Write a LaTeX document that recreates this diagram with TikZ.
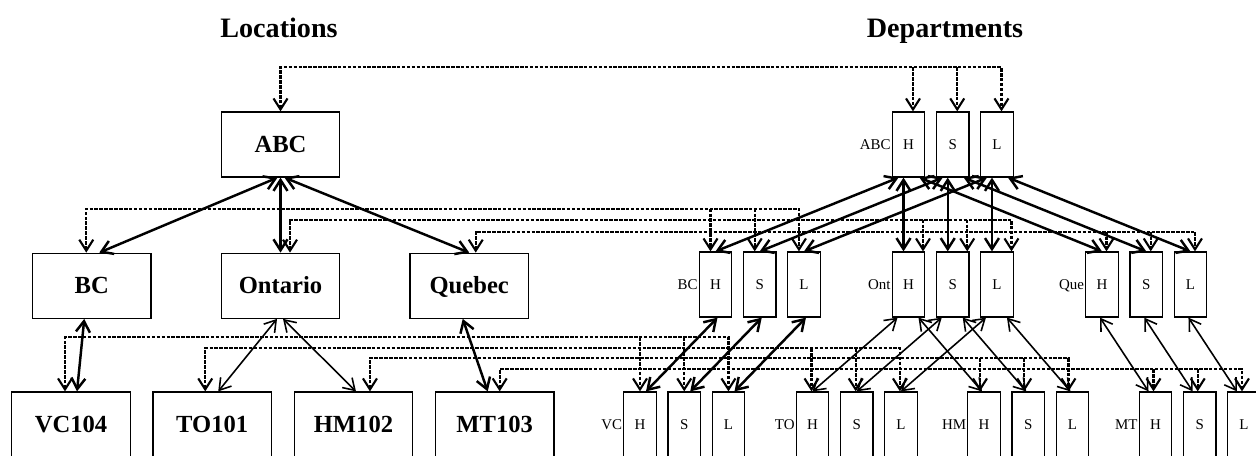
\documentclass[tikz,border=0pt]{standalone}
\usepackage{fontspec}
\setmainfont{Liberation Serif}
\usetikzlibrary{positioning,arrows.meta,calc}

\tikzset{
  loc/.style={rectangle,draw,line width=0.7pt,minimum width=23.7mm,minimum height=13mm,text height=10pt,text depth=1pt,font=\bfseries\fontsize{14}{16}\selectfont},
  dept/.style={rectangle,draw,line width=0.7pt,minimum width=6.5mm,minimum height=13mm,inner sep=0pt,text height=6pt,text depth=0.5pt,font=\fontsize{8.5}{10}\selectfont},
  deptname/.style={inner sep=0.4pt,text height=6pt,text depth=0.5pt,font=\fontsize{8.5}{10}\selectfont},
  heading/.style={text height=11pt,text depth=3.5pt,font=\bfseries\fontsize{16}{18}\selectfont},
  tree/.style={<->,line width=1.4pt},
  treethin/.style={<->,line width=0.9pt},
  mapline/.style={line width=1.2pt,dash pattern=on 2pt off 0.8pt},
}

\begin{document}
\begin{tikzpicture}[x=0.2mm,y=-0.2mm,>={Straight Barb[length=2.2mm,width=2.8mm]}]

\useasboundingbox (0,0) rectangle (1256,455);

\node (loctitle) [heading] at (279,31) {Locations};
\node (depttitle) [heading] at (945,31) {Departments};

\node (abc) [loc] at (280.5,144.5) {ABC};
\node (ont) [loc,below=15mm of abc] {Ontario};
\node (bc) [loc,left=13.8mm of ont] {BC};
\node (que) [loc,right=13.8mm of ont] {Quebec};

\node (vc104) [loc] at (71,424.5) {VC104};
\node (to101) [loc,right=4.3mm of vc104] {TO101};
\node (hm102) [loc,right=4.3mm of to101] {HM102};
\node (mt103) [loc,right=4.3mm of hm102] {MT103};

\foreach \g/\lab/\x/\y in {abcd/ABC/908.5/144.5, bcd/BC/715.5/284.5, ontd/Ont/908.5/284.5, qued/Que/1102/284.5,
    vcd/VC/640/424.5, tod/TO/812.5/424.5, hmd/HM/984/424.5, mtd/MT/1155.5/424.5}{
  \node (\g-H) [dept] at (\x,\y) {H};
  \node (\g-S) [dept,right=2.1mm of \g-H] {S};
  \node (\g-L) [dept,right=2.1mm of \g-S] {L};
  \node (\g-name) [deptname,left=0pt of \g-H] {\lab};
}

\draw[tree] ($(abc.south)+(-3,0)$) -- ($(bc.north)+(7.5,0)$);
\draw[tree] (abc) -- (ont);
\draw[tree] ($(abc.south)+(4,0)$) -- (que.north);
\draw[tree] ($(bc.south)+(-7.5,0)$) -- ($(vc104.north)+(6,0)$);
\draw[treethin] ($(ont.south)+(-3.5,0)$) -- ($(to101.north)+(6,0)$);
\draw[treethin] ($(ont.south)+(2.5,0)$) -- ($(hm102.north)+(2.5,0)$);
\draw[tree] ($(que.south)+(-6.5,0)$) -- ($(mt103.north)+(-7,0)$);

\foreach \k in {H,S,L}{
  \draw[tree] ($(abcd-\k.south)+(-10,0)$) -- (bcd-\k.north);
  \draw[tree] ($(abcd-\k.south)+(-5,0)$) -- ($(ontd-\k.north)+(-5,0)$);
  \draw[tree] ($(abcd-\k.south)+(11,0)$) -- (qued-\k.north);
  \draw[tree] ($(bcd-\k.south)+(2,0)$) -- ($(vcd-\k.north)+(6,0)$);
  \draw[treethin] ($(ontd-\k.south)+(-11,0)$) -- (tod-\k.north);
  \draw[treethin] ($(ontd-\k.south)+(10,0)$) -- ($(hmd-\k.north)+(-2,0)$);
  \draw[treethin] ($(qued-\k.south)+(-2,0)$) -- ($(mtd-\k.north)+(-7,0)$);
}

\foreach \src/\g/\rise/\sa/\sb in {abc/abcd/44/0/4.5, bc/bcd/44/-5.5/-5, ont/ontd/33/9.5/14.5, que/qued/21/6.5/4.5,
    vc104/vcd/54/-6/0, to101/tod/43/-7/-1, hm102/hmd/33/16.5/-4, mt103/mtd/22/5/-2}{
  \draw[mapline,<->] ($(\src.north)+(\sa,0)$) -- ++(0,-\rise) coordinate (\src-bus) -| ($(\g-L.north)+(\sb,0)$);
  \foreach \k in {H,S}
    \draw[mapline,->] ($(\src-bus -| \g-\k.north)+(\sb,0)$) -- ($(\g-\k.north)+(\sb,0)$);
}

\end{tikzpicture}
\end{document}
